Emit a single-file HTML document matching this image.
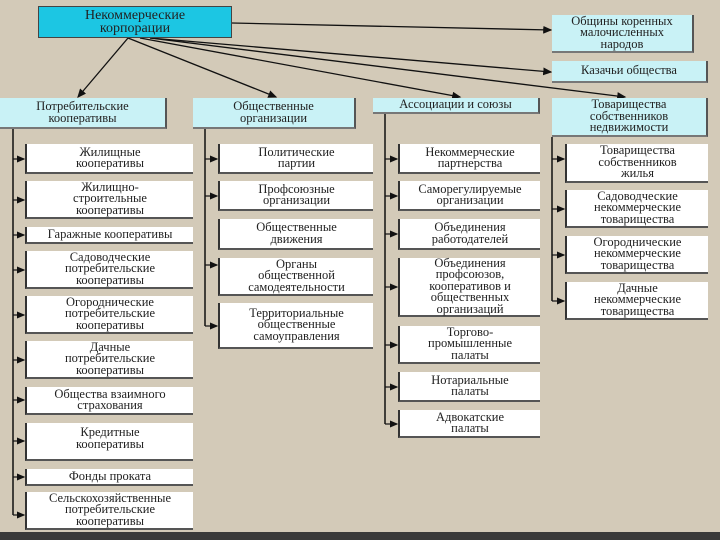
<!DOCTYPE html>
<html><head><meta charset="utf-8"><style>
body{margin:0;width:720px;height:540px;overflow:hidden;background:#d3cab8;position:relative;font-family:"Liberation Serif","Noto Serif CJK SC",serif;}
.b{position:absolute;box-sizing:border-box;display:flex;align-items:center;justify-content:center;text-align:center;font-size:12.5px;line-height:11.5px;color:#222;background:#fff;border-left:2px solid #333;border-bottom:2px solid #555;white-space:nowrap;}
.c{background:#c9f2f6;border:none;border-right:2px solid #555;border-bottom:2px solid #777;}
.t{background:#1cc6e3;border:1px solid #444;font-size:14px;line-height:13px;}
svg{position:absolute;left:0;top:0}
</style></head><body>
<svg width="720" height="540">
<defs><marker id="a" markerWidth="7" markerHeight="6" refX="6" refY="3" orient="auto"><path d="M0,0L7,3L0,6z" fill="#111"/></marker></defs>
<g stroke="#111" stroke-width="1.3" fill="none" marker-end="url(#a)">
<line x1="128" y1="38" x2="78" y2="97"/>
<line x1="128" y1="38" x2="276" y2="97"/>
<line x1="140" y1="38" x2="460" y2="97"/>
<line x1="150" y1="38" x2="625" y2="97"/>
<line x1="150" y1="38" x2="551" y2="72"/>
<line x1="232" y1="23" x2="551" y2="30"/>
</g>
<g stroke="#111" stroke-width="1.5" fill="none">
<line x1="13" y1="129" x2="13" y2="515"/>
<line x1="205" y1="129" x2="205" y2="326"/>
<line x1="385" y1="114" x2="385" y2="424"/>
<line x1="552" y1="137" x2="552" y2="301"/>
</g>
<g stroke="#111" stroke-width="1.2" marker-end="url(#a)">
<line x1="13" y1="159" x2="24" y2="159"/><line x1="13" y1="200" x2="24" y2="200"/><line x1="13" y1="235" x2="24" y2="235"/><line x1="13" y1="270" x2="24" y2="270"/><line x1="13" y1="315" x2="24" y2="315"/><line x1="13" y1="360" x2="24" y2="360"/><line x1="13" y1="400" x2="24" y2="400"/><line x1="13" y1="441" x2="24" y2="441"/><line x1="13" y1="477" x2="24" y2="477"/><line x1="13" y1="515" x2="24" y2="515"/>
<line x1="205" y1="159" x2="217" y2="159"/><line x1="205" y1="196" x2="217" y2="196"/><line x1="205" y1="265" x2="217" y2="265"/><line x1="205" y1="326" x2="217" y2="326"/>
<line x1="385" y1="159" x2="397" y2="159"/><line x1="385" y1="196" x2="397" y2="196"/><line x1="385" y1="234" x2="397" y2="234"/><line x1="385" y1="287" x2="397" y2="287"/><line x1="385" y1="345" x2="397" y2="345"/><line x1="385" y1="387" x2="397" y2="387"/><line x1="385" y1="424" x2="397" y2="424"/>
<line x1="552" y1="159" x2="564" y2="159"/><line x1="552" y1="209" x2="564" y2="209"/><line x1="552" y1="255" x2="564" y2="255"/><line x1="552" y1="301" x2="564" y2="301"/>
</g>
</svg>
<div class="b t" style="left:38px;top:6px;width:194px;height:32px">Некоммерческие<br>корпорации</div>
<div class="b c" style="left:552px;top:15px;width:142px;height:38px">Общины коренных<br>малочисленных<br>народов</div>
<div class="b c" style="left:552px;top:61px;width:156px;height:22px">Казачьи общества</div>
<div class="b c" style="left:0;top:98px;width:167px;height:31px">Потребительские<br>кооперативы</div>
<div class="b c" style="left:193px;top:98px;width:163px;height:31px">Общественные<br>организации</div>
<div class="b c" style="left:373px;top:98px;width:167px;height:16px">Ассоциации и союзы</div>
<div class="b c" style="left:552px;top:98px;width:156px;height:39px">Товарищества<br>собственников<br>недвижимости</div>

<div class="b" style="left:25px;top:144px;width:168px;height:30px">Жилищные<br>кооперативы</div>
<div class="b" style="left:25px;top:181px;width:168px;height:38px">Жилищно-<br>строительные<br>кооперативы</div>
<div class="b" style="left:25px;top:227px;width:168px;height:17px">Гаражные кооперативы</div>
<div class="b" style="left:25px;top:251px;width:168px;height:38px">Садоводческие<br>потребительские<br>кооперативы</div>
<div class="b" style="left:25px;top:296px;width:168px;height:38px">Огороднические<br>потребительские<br>кооперативы</div>
<div class="b" style="left:25px;top:341px;width:168px;height:38px">Дачные<br>потребительские<br>кооперативы</div>
<div class="b" style="left:25px;top:387px;width:168px;height:28px">Общества взаимного<br>страхования</div>
<div class="b" style="left:25px;top:423px;width:168px;height:38px;align-items:flex-start;padding-top:4px">Кредитные<br>кооперативы</div>
<div class="b" style="left:25px;top:469px;width:168px;height:17px">Фонды проката</div>
<div class="b" style="left:25px;top:492px;width:168px;height:38px">Сельскохозяйственные<br>потребительские<br>кооперативы</div>

<div class="b" style="left:218px;top:144px;width:155px;height:30px">Политические<br>партии</div>
<div class="b" style="left:218px;top:181px;width:155px;height:30px">Профсоюзные<br>организации</div>
<div class="b" style="left:218px;top:219px;width:155px;height:31px">Общественные<br>движения</div>
<div class="b" style="left:218px;top:258px;width:155px;height:38px">Органы<br>общественной<br>самодеятельности</div>
<div class="b" style="left:218px;top:303px;width:155px;height:46px">Территориальные<br>общественные<br>самоуправления</div>

<div class="b" style="left:398px;top:144px;width:142px;height:30px">Некоммерческие<br>партнерства</div>
<div class="b" style="left:398px;top:181px;width:142px;height:30px">Саморегулируемые<br>организации</div>
<div class="b" style="left:398px;top:219px;width:142px;height:31px">Объединения<br>работодателей</div>
<div class="b" style="left:398px;top:258px;width:142px;height:59px">Объединения<br>профсоюзов,<br>кооперативов и<br>общественных<br>организаций</div>
<div class="b" style="left:398px;top:326px;width:142px;height:38px">Торгово-<br>промышленные<br>палаты</div>
<div class="b" style="left:398px;top:372px;width:142px;height:30px">Нотариальные<br>палаты</div>
<div class="b" style="left:398px;top:410px;width:142px;height:28px">Адвокатские<br>палаты</div>

<div class="b" style="left:565px;top:144px;width:143px;height:39px">Товарищества<br>собственников<br>жилья</div>
<div class="b" style="left:565px;top:190px;width:143px;height:38px">Садоводческие<br>некоммерческие<br>товарищества</div>
<div class="b" style="left:565px;top:236px;width:143px;height:38px">Огороднические<br>некоммерческие<br>товарищества</div>
<div class="b" style="left:565px;top:282px;width:143px;height:38px">Дачные<br>некоммерческие<br>товарищества</div>
<div style="position:absolute;left:0;top:532px;width:720px;height:8px;background:#3a3a3a"></div>
</body></html>
